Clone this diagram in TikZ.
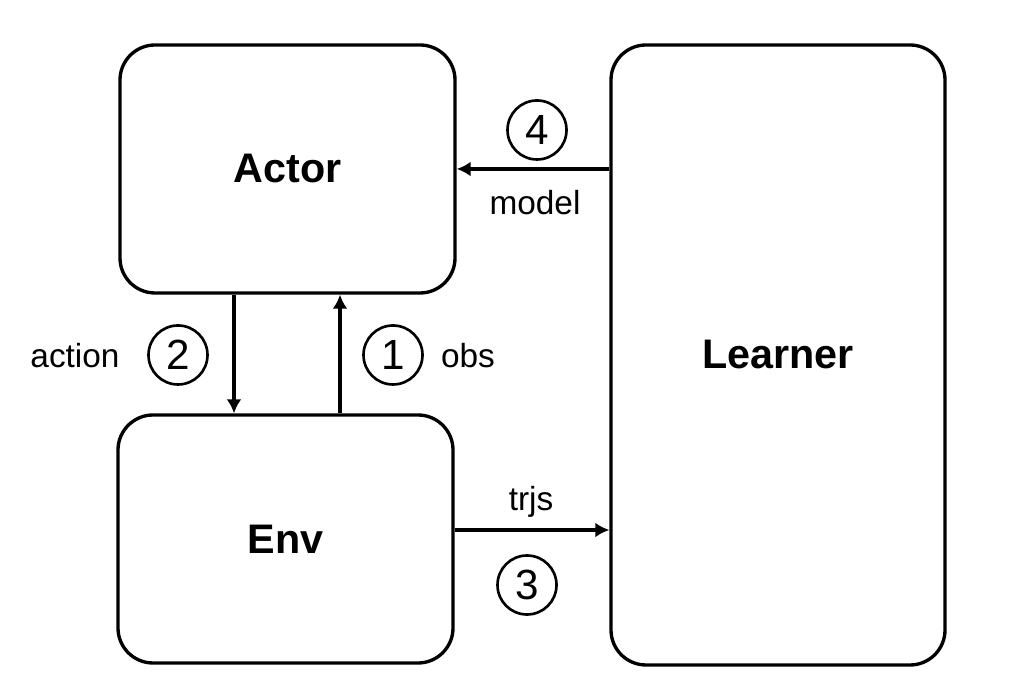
\documentclass[tikz,border=0pt]{standalone}
\usepackage{fontspec}
\setmainfont{Liberation Sans}
\usetikzlibrary{arrows.meta}
\tikzset{
  block/.style={draw,line width=1.9pt,rounded corners=0.7cm,inner sep=0pt,font=\fontsize{23.5}{28}\selectfont\bfseries},
  flow/.style={line width=2.2pt,-{Latex[length=8pt,width=8.5pt]}},
  stepnum/.style={draw,circle,line width=1.5pt,minimum size=1.18cm,inner sep=0pt,font=\fontsize{24}{28}\selectfont},
  lbl/.style={font=\fontsize{19}{22}\selectfont}
}
\begin{document}
\begin{tikzpicture}
   \useasboundingbox (0,0) rectangle (20.56,13.72);
   \node [block,minimum width=6.7cm,minimum height=4.96cm] (actor) at (5.75,10.34) {Actor};
   \node [block,minimum width=6.7cm,minimum height=4.96cm] (env) at (5.71,2.94) {Env};
   \node [block,minimum width=6.68cm,minimum height=12.4cm] (learner) at (15.56,6.62) {Learner};
   % actor <-> env
   \coordinate (adown) at ([xshift=-1.07cm]actor.south);
   \coordinate (aup) at ([xshift=1.05cm]actor.south);
   \draw [flow] (adown) -- (adown |- env.north);
   \draw [flow] (aup |- env.north) -- (aup);
   % env -> learner -> actor
   \coordinate (etr) at ([yshift=0.18cm]env.east);
   \draw [flow] (etr) -- (etr -| learner.west);
   \draw [flow] (learner.west |- actor.east) -- (actor.east);
   \node [stepnum] (n1) at (7.86,6.62) {1};
   \node [stepnum] (n2) at (3.56,6.62) {2};
   \node [stepnum] (n3) at (10.54,2.02) {3};
   \node [stepnum] (n4) at (10.74,11.12) {4};
   \node [lbl] (obs) at (9.36,6.6) {obs};
   \node [lbl] (action) at (1.50,6.6) {action};
   \node [lbl] (trjs) at (10.62,3.68) {trjs};
   \node [lbl] (model) at (10.70,9.66) {model};
\end{tikzpicture}
\end{document}
